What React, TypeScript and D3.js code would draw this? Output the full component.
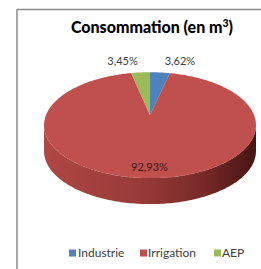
import React from 'react';
import * as d3 from 'd3';

const categories = ['Industrie', 'Irrigation', 'AEP'];
const values = [3.62, 92.93, 3.45];
const valueLabels = ['3,62%', '92,93%', '3,45%'];
const colors = ['#4F81BD', '#C0504D', '#9BBB59'];
const titleText = 'Consommation (en m';
const titleSup = '3';

const W = 261;
const H = 269;
const CX = 150;
const CY = 115;
const A = 104;
const B = 51;
const K = 0.192;
const T = 26;
const FONT = "Lato, 'Open Sans', sans-serif";

function proj(theta: number, r = 1, dy = 0): [number, number] {
  const u = r * Math.sin(theta);
  const v = -r * Math.cos(theta);
  const dd = 1 - K * v;
  return [CX + (A * u) / dd, CY + (B * v) / dd + dy];
}

function sample(a0: number, a1: number, dy = 0): [number, number][] {
  const n = Math.max(2, Math.ceil(Math.abs(a1 - a0) / (Math.PI / 180)));
  const pts: [number, number][] = [];
  for (let i = 0; i <= n; i++) {
    const t = a0 + ((a1 - a0) * i) / n;
    pts.push(proj(t, 1, dy));
  }
  return pts;
}

export default function App() {
  const pie = d3.pie<number>().sort(null).value((d) => d);
  const arcs = pie(values);
  const line = d3.line<[number, number]>().curve(d3.curveLinear);

  const aL = Math.acos(-K);
  const aR = 2 * Math.PI - aL;
  const topFront = sample(aL, aR, 0);
  const botFront = sample(aR, aL, T);
  const sidePath = line([...topFront, ...botFront]) + 'Z';

  const sx0 = CX - A * 1.02;
  const sx1 = CX + A * 1.02;

  const legendItems = [
    { sq: 69, tx: 78 },
    { sq: 140, tx: 148 },
    { sq: 214, tx: 222 },
  ];

  return (
    <svg width={W} height={H} style={{ position: 'absolute', left: 0, top: 0 }}>
      <defs>
        <linearGradient id="side" gradientUnits="userSpaceOnUse" x1={sx0} y1={0} x2={sx1} y2={0}>
          <stop offset="0" stopColor="#b04744" />
          <stop offset="0.45" stopColor="#983b38" />
          <stop offset="0.75" stopColor="#782a28" />
          <stop offset="1" stopColor="#461513" />
        </linearGradient>
      </defs>
      <rect x={0} y={0} width={W} height={H} fill="#ffffff" />
      <line x1={17} y1={9.5} x2={W} y2={9.5} stroke="#8c8c8c" strokeWidth={1.5} />
      <line x1={17} y1={9} x2={17} y2={H} stroke="#8c8c8c" strokeWidth={1.5} />

      <text x={152} y={33} textAnchor="middle" fontFamily={FONT} fontWeight="900" fontSize={16} fill="#000">
        {titleText}
        <tspan fontSize={10.5} dy={-6}>{titleSup}</tspan>
        <tspan dy={6}>)</tspan>
      </text>

      <path d={sidePath} fill="url(#side)" />
      {arcs.map((a, i) => {
        const pts: [number, number][] = [[CX, CY], ...sample(a.startAngle, a.endAngle)];
        return <path key={i} d={line(pts) + 'Z'} fill={colors[i]} />;
      })}

      {arcs.map((a, i) => {
        const mid = (a.startAngle + a.endAngle) / 2;
        const big = a.endAngle - a.startAngle > Math.PI;
        if (big) {
          const [x, y] = proj(mid, 0.85);
          return (
            <text key={i} x={x} y={y} dy="0.35em" textAnchor="middle" fontFamily={FONT} fontSize={11} fill="#3a1414">
              {valueLabels[i]}
            </text>
          );
        }
        const [x, y] = proj(mid, 1);
        const dx = Math.sin(mid) > 0 ? 20 : -18;
        return (
          <text key={i} x={x + dx} y={y - 11} dy="0.35em" textAnchor="middle" fontFamily={FONT} fontSize={11} fill="#404040">
            {valueLabels[i]}
          </text>
        );
      })}

      {categories.map((c, i) => (
        <g key={c}>
          <rect x={legendItems[i].sq} y={249.5} width={7} height={7} fill={colors[i]} />
          <text x={legendItems[i].tx} y={253} dy="0.35em" fontFamily={FONT} fontSize={12} fill="#404040">
            {c}
          </text>
        </g>
      ))}
    </svg>
  );
}
